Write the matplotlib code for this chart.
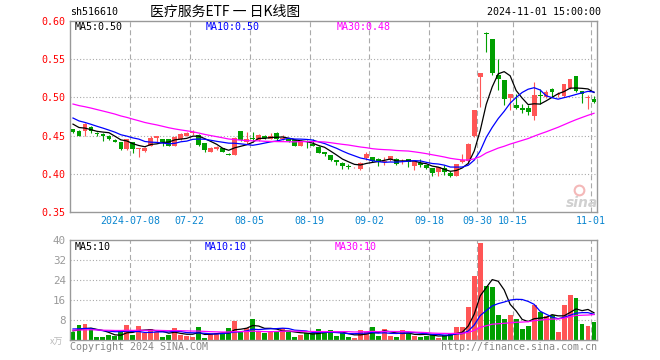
import numpy as np
import pandas as pd
import matplotlib
matplotlib.use('Agg')
import matplotlib.pyplot as plt

plt.rcParams['lines.scale_dashes'] = False

# ---------------- data ----------------
holidays = ['2024-09-16', '2024-09-17', '2024-10-01', '2024-10-02',
            '2024-10-03', '2024-10-04', '2024-10-07']
dates = [d.strftime('%Y-%m-%d') for d in pd.bdate_range('2024-06-24', '2024-11-01')
         if d.strftime('%Y-%m-%d') not in holidays]

opens = [0.458, 0.456, 0.456, 0.461, 0.453, 0.452, 0.450, 0.444, 0.442, 0.432,
         0.441, 0.433, 0.430, 0.437, 0.447, 0.445, 0.445, 0.437, 0.446, 0.450,
         0.453, 0.451, 0.440, 0.429, 0.432, 0.434, 0.426, 0.425, 0.456, 0.442,
         0.447, 0.444, 0.450, 0.446, 0.453, 0.446, 0.445, 0.444, 0.437, 0.442,
         0.439, 0.435, 0.4285, 0.424, 0.4175, 0.414, 0.4098, 0.4083, 0.406, 0.421,
         0.4215, 0.420, 0.4153, 0.4175, 0.420, 0.4162, 0.4197, 0.410, 0.414, 0.4118,
         0.4074, 0.4022, 0.407, 0.4012, 0.3977, 0.4153, 0.4166, 0.4491, 0.5272, 0.584,
         0.5768, 0.5294, 0.5228, 0.4996, 0.4899, 0.4855, 0.4855, 0.4759, 0.5031, 0.5009,
         0.5105, 0.5031, 0.5018, 0.5119, 0.5281, 0.5088, 0.4996, 0.4978]
highs = [0.459, 0.457, 0.466, 0.462, 0.455, 0.453, 0.451, 0.445, 0.442, 0.446,
         0.442, 0.434, 0.435, 0.449, 0.4495, 0.445, 0.445, 0.449, 0.453, 0.455,
         0.457, 0.452, 0.440, 0.435, 0.436, 0.434, 0.427, 0.448, 0.456, 0.455,
         0.455, 0.452, 0.451, 0.454, 0.455, 0.451, 0.446, 0.445, 0.444, 0.444,
         0.446, 0.436, 0.429, 0.425, 0.418, 0.415, 0.4122, 0.409, 0.415, 0.428,
         0.4215, 0.4201, 0.4219, 0.4235, 0.4201, 0.4197, 0.4197, 0.4165, 0.4197, 0.412,
         0.4074, 0.409, 0.4109, 0.4034, 0.4125, 0.4254, 0.4403, 0.4835, 0.532, 0.585,
         0.5768, 0.550, 0.5228, 0.5044, 0.5044, 0.4912, 0.4899, 0.5206, 0.5105, 0.5097,
         0.5119, 0.507, 0.518, 0.5245, 0.5281, 0.5088, 0.5026, 0.5018]
lows = [0.453, 0.449, 0.450, 0.454, 0.450, 0.443, 0.444, 0.441, 0.431, 0.431,
        0.427, 0.422, 0.429, 0.436, 0.4417, 0.437, 0.436, 0.436, 0.444, 0.449,
        0.451, 0.437, 0.428, 0.428, 0.431, 0.428, 0.424, 0.424, 0.443, 0.4395,
        0.441, 0.443, 0.445, 0.445, 0.443, 0.444, 0.442, 0.436, 0.436, 0.434,
        0.436, 0.427, 0.4228, 0.4166, 0.4109, 0.4061, 0.4061, 0.408, 0.4048, 0.4184,
        0.4153, 0.410, 0.4109, 0.417, 0.4114, 0.4131, 0.4087, 0.4052, 0.4087, 0.4065,
        0.3969, 0.3969, 0.3986, 0.3955, 0.3968, 0.414, 0.4153, 0.4482, 0.4877, 0.5588,
        0.5294, 0.5097, 0.4899, 0.4833, 0.4842, 0.4798, 0.4776, 0.4701, 0.4912, 0.4987,
        0.500, 0.501, 0.500, 0.511, 0.5075, 0.493, 0.4842, 0.493]
closes = [0.455, 0.450, 0.465, 0.456, 0.452, 0.450, 0.446, 0.442, 0.432, 0.445,
          0.432, 0.434, 0.434, 0.447, 0.449, 0.441, 0.437, 0.448, 0.452, 0.454,
          0.455, 0.438, 0.431, 0.434, 0.435, 0.429, 0.425, 0.447, 0.444, 0.445,
          0.445, 0.451, 0.447, 0.450, 0.446, 0.447, 0.443, 0.437, 0.443, 0.441,
          0.437, 0.4272, 0.4254, 0.4184, 0.4153, 0.410, 0.4094, 0.4087, 0.4144, 0.4254,
          0.4166, 0.4153, 0.4166, 0.4228, 0.4131, 0.4166, 0.4153, 0.4162, 0.4109, 0.407,
          0.4008, 0.4087, 0.4022, 0.3977, 0.4122, 0.4175, 0.4385, 0.4833, 0.5316, 0.583,
          0.5325, 0.5237, 0.4978, 0.5044, 0.4864, 0.4833, 0.4811, 0.5031, 0.5022, 0.5075,
          0.5066, 0.5044, 0.5176, 0.5241, 0.5088, 0.5044, 0.5005, 0.4943]
volumes = [3.3, 6.0, 6.4, 4.3, 1.2, 1.2, 2.0, 1.6, 3.6, 6.0,
           2.0, 5.6, 2.7, 4.4, 3.3, 1.2, 2.0, 4.7, 2.0, 1.6,
           1.3, 5.3, 0.9, 2.4, 2.7, 3.0, 4.7, 7.6, 3.6, 4.7,
           8.4, 3.6, 3.0, 3.6, 3.3, 4.7, 3.3, 1.2, 2.0, 2.7,
           2.7, 4.4, 3.0, 4.0, 1.7, 2.7, 1.2, 0.7, 4.0, 3.3,
           5.2, 1.7, 4.4, 1.7, 1.2, 4.0, 2.7, 1.7, 1.2, 1.7,
           2.5, 0.9, 2.0, 2.3, 5.2, 5.2, 13.3, 25.7, 38.9, 21.6,
           21.3, 10.0, 8.4, 10.0, 8.4, 4.4, 5.7, 14.0, 11.3, 9.7,
           10.0, 3.3, 14.0, 18.0, 16.9, 6.5, 5.7, 7.3]

# closes / volumes of the 29 sessions before the visible window (for the moving averages)
prior_closes = [0.512, 0.510, 0.508, 0.511, 0.507, 0.505, 0.503, 0.506, 0.502, 0.500,
                0.498, 0.501, 0.497, 0.495, 0.496, 0.493, 0.494, 0.491, 0.489, 0.492,
                0.488, 0.485, 0.480, 0.478, 0.474, 0.472, 0.469, 0.466, 0.463]
prior_volumes = [3.5, 4.0, 3.2, 3.8, 4.1, 3.3, 3.6, 3.9, 3.4, 3.7,
                 3.5, 3.8, 3.2, 4.0, 3.6, 3.7, 3.5, 3.9, 3.6, 3.7,
                 5.5, 4.8, 5.6, 4.9, 5.2, 3.6, 4.0, 3.4, 3.8]

tick_dates = ['2024-07-08', '2024-07-22', '2024-08-05', '2024-08-19', '2024-09-02',
              '2024-09-18', '2024-09-30', '2024-10-15', '2024-11-01']
tick_labels = ['2024-07-08', '07-22', '08-05', '08-19', '09-02',
               '09-18', '09-30', '10-15', '11-01']
price_ticks = [0.35, 0.40, 0.45, 0.50, 0.55, 0.60]
volume_ticks = [8, 16, 24, 32, 40]

# ---------------- styles ----------------
RED = '#ff5555'
GREEN = '#009f00'
GRID = '#aaaaaa'
FRAME = '#999999'
AXBLUE = '#0a86d0'
MONO = 'DejaVu Sans Mono'
FS = 7.2

W, H = 660, 360
fig = plt.figure(figsize=(W / 100, H / 100), dpi=100)
fig.patch.set_facecolor('white')

def fx(px):
    return px / W

def fy(py):
    return 1 - py / H

ax1 = fig.add_axes([fx(70), fy(212), fx(597) - fx(70), fy(21) - fy(212)])
ax2 = fig.add_axes([fx(70), fy(340), fx(597) - fx(70), fy(240) - fy(340)])

n = len(closes)
x = np.arange(n)
o = np.array(opens); h = np.array(highs); l = np.array(lows); c = np.array(closes)
v = np.array(volumes)
up = c >= o
cols = np.where(up, RED, GREEN)

def ma(prior, vals, k):
    s = pd.Series(list(prior) + list(vals)).rolling(k).mean().to_numpy()
    return s[len(prior):]

tick_pos = np.array([dates.index(d) for d in tick_dates]) - 0.5

for ax in (ax1, ax2):
    ax.set_xlim(-0.5, n - 0.5)
    for s in ax.spines.values():
        s.set_color(FRAME)
        s.set_linewidth(1.0)
    for p in tick_pos:
        ax.axvline(p, color=GRID, lw=0.8, ls=(0, (3.6, 2.2)), zorder=0)
    ax.tick_params(length=0)

# ---- price panel ----
ax1.set_ylim(0.35, 0.60)
for yv in price_ticks[1:-1]:
    ax1.axhline(yv, color=GRID, lw=0.8, ls=(0, (0.8, 1.5)), zorder=0)
ax1.vlines(x, l, h, colors=cols, lw=0.8, zorder=2)
body_bot = np.minimum(o, c)
body_h = np.maximum(np.abs(c - o), 0.0011)
ax1.bar(x, body_h, bottom=body_bot, width=0.8, color=cols, linewidth=0, zorder=3)
ax1.plot(x, ma(prior_closes, closes, 5), color='black', lw=0.9, zorder=4)
ax1.plot(x, ma(prior_closes, closes, 10), color='#0000ff', lw=0.9, zorder=4)
ax1.plot(x, ma(prior_closes, closes, 30), color='#ff00ff', lw=0.9, zorder=4)
ax1.set_yticks(price_ticks)
ax1.set_yticklabels(['%.2f' % t for t in price_ticks], color='#ff0000',
                    fontsize=FS, family=MONO)
ax1.set_xticks(tick_pos)
ax1.set_xticklabels(tick_labels, color=AXBLUE, fontsize=FS, family=MONO)
ax1.tick_params(axis='x', pad=3)
ax1.tick_params(axis='y', pad=3)

# ---- volume panel ----
ax2.set_ylim(0, 40)
for yv in volume_ticks[:-1]:
    ax2.axhline(yv, color=GRID, lw=0.8, ls=(0, (0.8, 1.5)), zorder=0)
ax2.bar(x, v, width=0.82, color=cols, linewidth=0, zorder=2)
ax2.plot(x, ma(prior_volumes, volumes, 5), color='black', lw=0.9, zorder=4)
ax2.plot(x, ma(prior_volumes, volumes, 10), color='#0000ff', lw=0.9, zorder=4)
ax2.plot(x, ma(prior_volumes, volumes, 30), color='#ff00ff', lw=0.9, zorder=4)
ax2.set_yticks(volume_ticks)
ax2.set_yticklabels([str(t) for t in volume_ticks], color='#999999',
                    fontsize=FS + 0.6, family=MONO)
ax2.tick_params(axis='y', pad=3)
ax2.set_xticks([])

# ---- texts ----
fig.text(fx(70), fy(12), 'sh516610', fontsize=FS, family=MONO, ha='left', va='center')
fig.text(fx(225), fy(12), '医疗服务ETF 一 日K线图', fontsize=10,
         family=['Noto Sans CJK SC', 'DejaVu Sans'], ha='center', va='center')
fig.text(fx(601), fy(12), '2024-11-01 15:00:00', fontsize=FS, family=MONO,
         ha='right', va='center')

fig.text(fx(75), fy(27), 'MA5:0.50', fontsize=FS, family=MONO, color='black', va='center')
fig.text(fx(206), fy(27), 'MA10:0.50', fontsize=FS, family=MONO, color='#0000ff', va='center')
fig.text(fx(337), fy(27), 'MA30:0.48', fontsize=FS, family=MONO, color='#ff00ff', va='center')

fig.text(fx(75), fy(247), 'MA5:10', fontsize=FS, family=MONO, color='black', va='center')
fig.text(fx(205), fy(247), 'MA10:10', fontsize=FS, family=MONO, color='#0000ff', va='center')
fig.text(fx(335), fy(247), 'MA30:10', fontsize=FS, family=MONO, color='#ff00ff', va='center')

fig.text(fx(57), fy(342), 'x万', fontsize=6.5, family=['Noto Sans CJK SC', 'DejaVu Sans'],
         color='#bbbbbb', ha='center', va='center')
fig.text(fx(70), fy(347), 'Copyright 2024 SINA.COM', fontsize=FS, family=MONO,
         color='#888888', ha='left', va='center')
fig.text(fx(597), fy(347), 'http://finance.sina.com.cn', fontsize=FS, family=MONO,
         color='#888888', ha='right', va='center')

# sina watermark (logo drawn as a marker, wordmark as text)
ax1.plot([0.965], [0.115], transform=ax1.transAxes, marker='o', ms=7, mfc='none',
         mec='#f4b8b8', mew=1.5, zorder=1)
fig.text(fx(582), fy(203), 'sina', fontsize=10, fontweight='bold', style='italic',
         color='#d0d0d0', ha='center', va='center')

fig.savefig('out.png', dpi=100)
